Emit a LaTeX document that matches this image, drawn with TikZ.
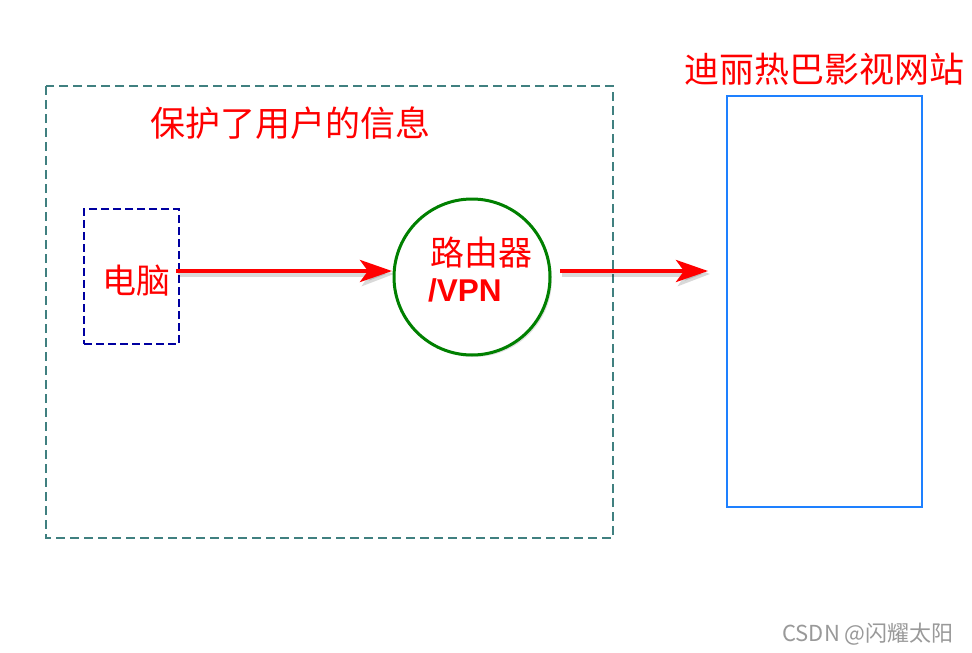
\documentclass[tikz,border=0pt]{standalone}
\usepackage{fontspec}
\newfontfamily\cjk{Noto Sans CJK SC}
\newfontfamily\lsans{Liberation Sans}
\usetikzlibrary{arrows.meta,shadows}
\definecolor{teal2}{RGB}{64,128,128}
\definecolor{navy2}{RGB}{0,0,160}
\definecolor{green2}{RGB}{0,128,0}
\definecolor{blue2}{RGB}{30,128,255}
\tikzset{
  lbl/.style={text=red,font=\cjk\fontsize{35}{37}\selectfont,inner sep=0pt},
  redarrow/.style={draw=red,line width=4.5pt,-{Stealth[length=32pt,width=22pt,inset=8pt]}},
  shadowarrow/.style={draw=black,opacity=0.15,line width=5.5pt,-{Stealth[length=32pt,width=24pt,inset=8pt]}},
}
\begin{document}
\begin{tikzpicture}[x=1pt,y=-1pt]
\useasboundingbox (0,0) rectangle (972,653);
\fill[white] (0,0) rectangle (972,653);
% outer dashed region
\draw[teal2,line width=2.8pt,dash pattern=on 9pt off 5pt] (46,86) rectangle (613,538);
\node[lbl] (title) at (290,123) {保护了用户的信息};
% computer
\node[draw=navy2,line width=2.8pt,dash pattern=on 8pt off 4pt,minimum width=95pt,minimum height=135pt,inner sep=0pt] (pcbox) at (131.5,276.5) {};
\node[lbl,font=\cjk\fontsize{34}{36}\selectfont] (pc) at (136,281) {电脑};
% router
\node[circle,draw=green2,line width=3pt,minimum size=156pt,inner sep=0pt,fill=white,drop shadow={opacity=0.25,shadow xshift=2pt,shadow yshift=-2pt}] (router) at (472,277) {};
\node[lbl,anchor=west,font=\cjk\fontsize{34}{36}\selectfont] (rt) at (430,253) {路由器};
\node[text=red,font=\lsans\bfseries\fontsize{31.5}{33}\selectfont,inner sep=0pt,anchor=west] (vpn) at (428,290) {/VPN};
% website
\node[draw=blue2,line width=2.8pt,minimum width=195pt,minimum height=411pt,inner sep=0pt] (site) at (824.5,301.5) {};
\node[lbl] (sitelbl) at (824,69) {迪丽热巴影视网站};
% arrows
\coordinate (a1s) at (176,271);
\coordinate (a1e) at (392,271);
\coordinate (a2s) at (560,271);
\coordinate (a2e) at (708,271);
\draw[shadowarrow] ([shift={(2,3)}]a1s) -- ([shift={(2,3)}]a1e);
\draw[shadowarrow] ([shift={(2,3)}]a2s) -- ([shift={(2,3)}]a2e);
\draw[redarrow] (a1s) -- (a1e);
\draw[redarrow] (a2s) -- (a2e);
% watermark
\node[text=gray!80,font=\cjk\fontsize{22}{24}\selectfont,inner sep=0pt] (wm) at (868,634) {CSDN @闪耀太阳};
\end{tikzpicture}
\end{document}
